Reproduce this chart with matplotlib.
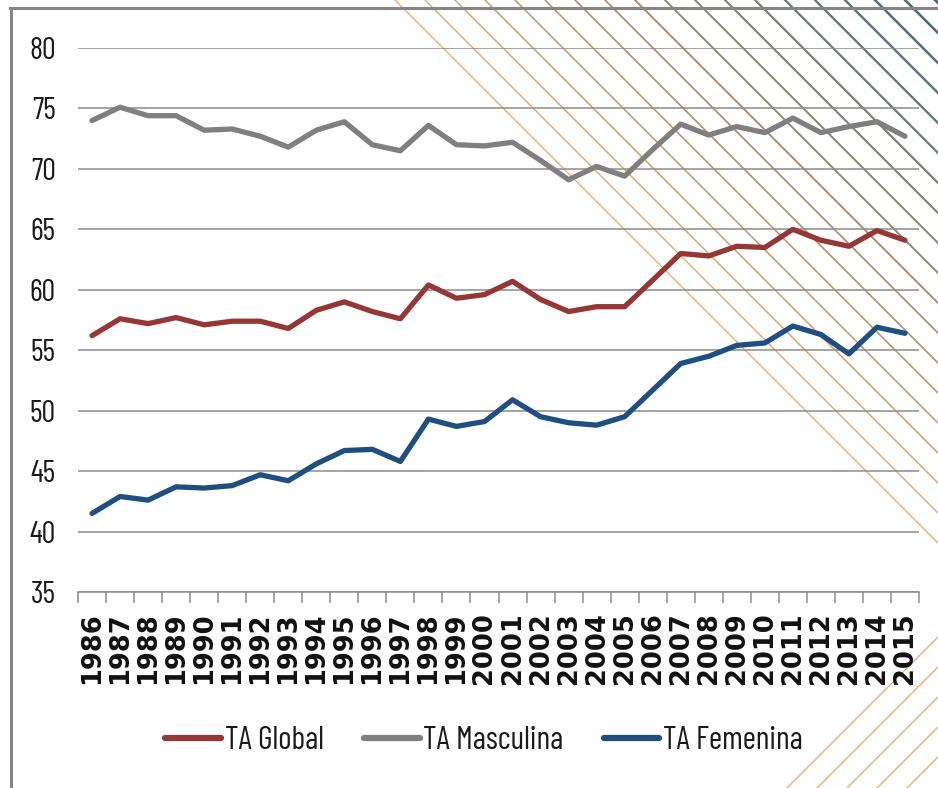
import matplotlib
matplotlib.use('Agg')
import matplotlib.pyplot as plt
from matplotlib.lines import Line2D
from matplotlib.colors import to_rgb
import numpy as np

# Data
years = list(range(1986, 2016))
ta_global = [56.2, 57.6, 57.2, 57.7, 57.1, 57.4, 57.4, 56.8, 58.3, 59.0,
             58.2, 57.6, 60.4, 59.3, 59.6, 60.7, 59.2, 58.2, 58.6, 58.6,
             60.8, 63.0, 62.8, 63.6, 63.5, 65.0, 64.1, 63.6, 64.9, 64.1]
ta_masculina = [74.0, 75.1, 74.4, 74.4, 73.2, 73.3, 72.7, 71.8, 73.2, 73.9,
                72.0, 71.5, 73.6, 72.0, 71.9, 72.2, 70.7, 69.1, 70.2, 69.4,
                71.6, 73.7, 72.8, 73.5, 73.0, 74.2, 73.0, 73.5, 73.9, 72.7]
ta_femenina = [41.5, 42.9, 42.6, 43.7, 43.6, 43.8, 44.7, 44.2, 45.6, 46.7,
               46.8, 45.8, 49.3, 48.7, 49.1, 50.9, 49.5, 49.0, 48.8, 49.5,
               51.7, 53.9, 54.5, 55.4, 55.6, 57.0, 56.3, 54.7, 56.9, 56.4]

series = [('TA Global', ta_global, '#953735'),
          ('TA Masculina', ta_masculina, '#7F7F7F'),
          ('TA Femenina', ta_femenina, '#1F4E80')]

W, H = 938, 788
txt_font = ['Barlow Condensed', 'DejaVu Sans']

fig = plt.figure(figsize=(W / 100, H / 100), dpi=100)
fig.patch.set_facecolor('white')

# decorative diagonal lines (pixel coordinates, y from bottom)
c0 = np.array(to_rgb('#F2A665'))
c1 = np.array(to_rgb('#3E6A7E'))
starts = list(range(395, 938, 30))
for i, x0 in enumerate(starts):
    t = i / (len(starts) - 1)
    col = tuple(c0 * (1 - t) + c1 * t)
    fig.add_artist(Line2D([x0, W], [H, H - (W - x0)], transform=None,
                          color=col, lw=0.9 + 1.0 * t, zorder=-2))
for x0 in range(787, 930, 30):
    fig.add_artist(Line2D([x0, W], [0, W - x0], transform=None,
                          color='#F2A665', lw=0.9, zorder=-2))

# frame lines top and left
fig.add_artist(Line2D([10, W], [H - 8, H - 8], transform=None,
                      color='#858585', lw=2.2, zorder=-1))
fig.add_artist(Line2D([11, 11], [0, H - 8], transform=None,
                      color='#858585', lw=2.2, zorder=-1))

ax = fig.add_axes([78 / W, 1 - 592 / H, (919 - 78) / W, (592 - 48) / H])
ax.set_facecolor('none')

x = np.arange(len(years))
for name, vals, col in series:
    ax.plot(x, vals, color=col, lw=3.8, label=name, solid_capstyle='round',
            zorder=3)

ax.set_xlim(-0.5, len(years) - 0.5)
ax.set_ylim(35, 80)
ax.set_yticks(range(35, 81, 5))
ax.yaxis.grid(True, color='#8C8C8C', lw=1.1)
ax.set_axisbelow(True)
for s in ['top', 'right', 'left']:
    ax.spines[s].set_visible(False)
ax.spines['bottom'].set_color('#8C8C8C')
ax.spines['bottom'].set_linewidth(1.1)

ax.tick_params(axis='y', length=0, pad=16, labelsize=22)
for lab in ax.get_yticklabels():
    lab.set_family(txt_font)
    lab.set_color('#1A1A1A')

ax.set_xticks(x)
ax.set_xticklabels([str(y) for y in years], rotation=90, fontsize=18.5,
                   fontweight='bold', color='#111111')
ax.set_xticks(np.arange(-0.5, len(years), 1), minor=True)
ax.tick_params(axis='x', which='major', length=0, pad=14.5)
ax.tick_params(axis='x', which='minor', length=8, color='#8C8C8C', width=1.1)

leg = fig.legend(loc='center', bbox_to_anchor=(484 / W, 1 - 741 / H), ncol=3,
                 frameon=False, handlelength=1.75, handletextpad=0.12,
                 columnspacing=1.25, prop={'family': txt_font, 'size': 23})
for line in leg.get_lines():
    line.set_linewidth(4.5)
for t in leg.get_texts():
    t.set_color('#1A1A1A')

fig.savefig('out.png', dpi=100, facecolor='white')
